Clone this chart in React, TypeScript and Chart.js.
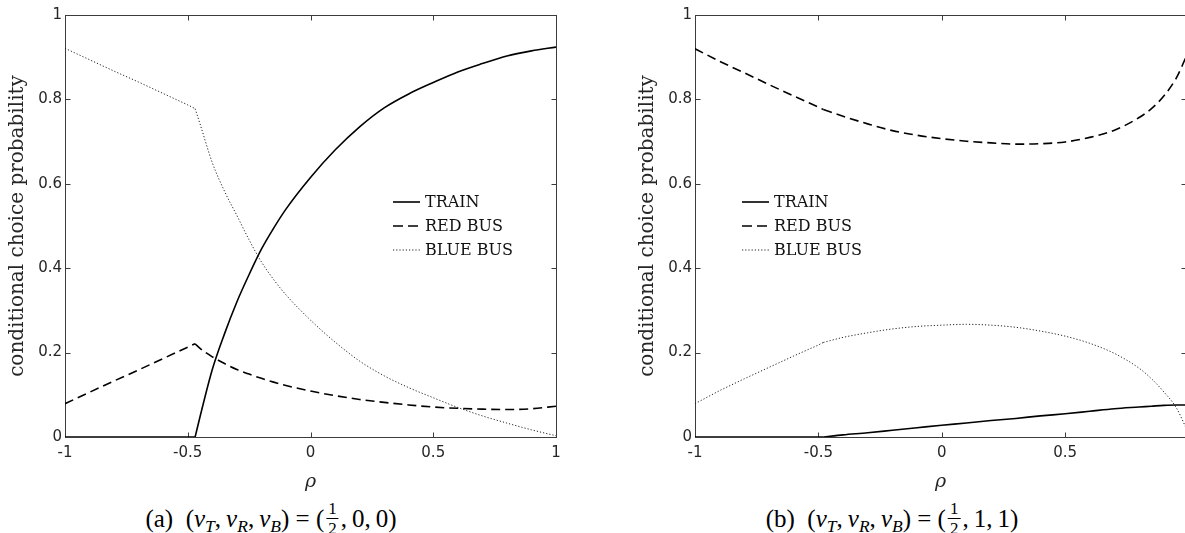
import React, { useEffect, useRef } from "react";
import { Chart, registerables } from "chart.js";
Chart.register(...registerables);

// ---------- data ----------
const rhoA = [-1, -0.9, -0.8, -0.7, -0.6, -0.5, -0.47, -0.45, -0.4, -0.35, -0.3, -0.25, -0.2, -0.15, -0.1, 0, 0.1, 0.2, 0.3, 0.4, 0.5, 0.6, 0.7, 0.8, 0.9, 1];
const trainA = [0, 0, 0, 0, 0, 0, 0, 0.048, 0.16, 0.245, 0.32, 0.385, 0.445, 0.495, 0.54, 0.615, 0.68, 0.735, 0.78, 0.813, 0.84, 0.865, 0.885, 0.903, 0.915, 0.924];
const redBusA = [0.079, 0.106, 0.133, 0.159, 0.186, 0.213, 0.221, 0.21, 0.19, 0.174, 0.16, 0.149, 0.139, 0.13, 0.122, 0.109, 0.098, 0.089, 0.082, 0.076, 0.071, 0.068, 0.066, 0.065, 0.067, 0.073];
const blueBusA = [0.921, 0.894, 0.867, 0.841, 0.814, 0.787, 0.778, 0.742, 0.65, 0.582, 0.525, 0.467, 0.415, 0.373, 0.337, 0.277, 0.225, 0.18, 0.145, 0.117, 0.093, 0.07, 0.05, 0.033, 0.017, 0.003];
const kinkA = -0.47;

const rhoB = [-1, -0.9, -0.8, -0.7, -0.6, -0.5, -0.48, -0.4, -0.3, -0.2, -0.1, 0, 0.1, 0.2, 0.3, 0.4, 0.5, 0.6, 0.7, 0.8, 0.85, 0.9, 0.95, 0.99];
const trainB = [0, 0, 0, 0, 0, 0, 0, 0.005, 0.01, 0.016, 0.022, 0.028, 0.033, 0.039, 0.044, 0.05, 0.055, 0.061, 0.067, 0.071, 0.073, 0.075, 0.076, 0.076];
const redBusB = [0.92, 0.89, 0.863, 0.835, 0.808, 0.782, 0.776, 0.76, 0.742, 0.726, 0.715, 0.707, 0.701, 0.697, 0.694, 0.695, 0.699, 0.71, 0.727, 0.757, 0.778, 0.808, 0.85, 0.9];
const blueBusB = [0.079, 0.11, 0.138, 0.165, 0.192, 0.218, 0.224, 0.236, 0.247, 0.256, 0.262, 0.265, 0.267, 0.265, 0.26, 0.251, 0.239, 0.222, 0.198, 0.163, 0.138, 0.107, 0.07, 0.022];
const kinkB = -0.48;

const seriesNames = ["TRAIN", "RED BUS", "BLUE BUS"];
const xTicksA = [-1, -0.5, 0, 0.5, 1];
const xTicksB = [-1, -0.5, 0, 0.5];
const yTicks = [0, 0.2, 0.4, 0.6, 0.8, 1];
const yTitle = "conditional choice probability";
const xTitle = "ρ";
const captionLabels = ["a", "b"];
const captionVR = ["0", "1"];
const captionVB = ["0", "1"];

// ---------- styles ----------
const AXIS = "#3c3c3c";
const TXT = "#262626";

const framePlugin = {
  id: "frame",
  beforeDatasetsDraw(chart: any) {
    const { ctx, chartArea: a, scales } = chart;
    const x = scales.x;
    const y = scales.y;
    const L = Math.round(a.left) + 0.5;
    const R = Math.round(a.right) + 0.5;
    const T = Math.round(a.top) + 0.5;
    const B = Math.round(a.bottom) + 0.5;
    ctx.save();
    ctx.strokeStyle = AXIS;
    ctx.lineWidth = 1;
    ctx.strokeRect(L, T, R - L, B - T);
    ctx.beginPath();
    x.ticks.forEach((t: any) => {
      const px = Math.round(x.getPixelForValue(t.value)) + 0.5;
      ctx.moveTo(px, B);
      ctx.lineTo(px, B - 5);
      ctx.moveTo(px, T);
      ctx.lineTo(px, T + 5);
    });
    y.ticks.forEach((t: any) => {
      const py = Math.round(y.getPixelForValue(t.value)) + 0.5;
      ctx.moveTo(L, py);
      ctx.lineTo(L + 5, py);
      ctx.moveTo(R, py);
      ctx.lineTo(R - 5, py);
    });
    ctx.stroke();
    ctx.restore();
  },
  afterDraw(chart: any, _args: any, opts: any) {
    const { ctx, chartArea: a } = chart;
    const lx = a.left + opts.legendX;
    const ly = a.top + opts.legendY;
    ctx.save();
    chart.data.datasets.slice(0, 3).forEach((ds: any, i: number) => {
      const yy = ly + i * 24;
      ctx.beginPath();
      ctx.strokeStyle = ds.borderColor;
      ctx.lineWidth = ds.borderWidth;
      ctx.setLineDash(ds.legendDash || ds.borderDash || []);
      ctx.moveTo(lx, yy);
      ctx.lineTo(lx + 27, yy);
      ctx.stroke();
      ctx.setLineDash([]);
      ctx.fillStyle = "#111";
      ctx.font = "16px 'DejaVu Serif'";
      ctx.textBaseline = "alphabetic";
      ctx.textAlign = "left";
      ctx.fillText(ds.label, lx + 32, yy + 5);
    });
    ctx.restore();
  },
};

type PanelProps = {
  left: number;
  width: number;
  rightPad: number;
  rho: number[];
  train: number[];
  red: number[];
  blue: number[];
  kink: number;
  xMax: number;
  xTicks: number[];
  legendX: number;
};

const HEIGHT = 495;

const styles = [
  { borderColor: "#000", borderWidth: 1.6, borderDash: [] as number[] },
  { borderColor: "#000", borderWidth: 1.6, borderDash: [9, 5], legendDash: [10, 5] },
  { borderColor: "#222", borderWidth: 1, borderDash: [1.2, 2] },
];

function Panel(p: PanelProps) {
  const ref = useRef<HTMLCanvasElement>(null);
  useEffect(() => {
    const pts = (arr: number[]) => p.rho.map((r, i) => ({ x: r, y: arr[i] }));
    const after = (arr: number[]) => pts(arr).filter((d) => d.x >= p.kink);
    const before = (arr: number[]) => pts(arr).filter((d) => d.x <= p.kink);
    const series = [p.train, p.red, p.blue];
    const main = series.map((arr, i) => ({
      label: seriesNames[i],
      data: after(arr),
      pointRadius: 0,
      cubicInterpolationMode: "monotone",
      ...styles[i],
    }));
    const pre = series.map((arr, i) => ({
      label: seriesNames[i] + " (ρ ≤ kink)",
      data: before(arr),
      pointRadius: 0,
      tension: 0,
      ...styles[i],
    }));
    const chart = new Chart(ref.current as HTMLCanvasElement, {
      type: "line",
      data: { datasets: [...main, ...pre] as any },
      options: {
        responsive: false,
        animation: false,
        devicePixelRatio: 1,
        layout: { padding: { top: 15, right: p.rightPad, left: 0, bottom: 0 } },
        scales: {
          x: {
            type: "linear",
            min: -1,
            max: p.xMax,
            afterBuildTicks: (s: any) => {
              s.ticks = p.xTicks.map((v) => ({ value: v }));
            },
            afterFit: (s: any) => {
              s.height = HEIGHT - 437;
            },
            grid: { display: false, drawTicks: false },
            border: { display: false },
            ticks: {
              color: TXT,
              padding: 7,
              font: { family: "'DejaVu Sans'", size: 15 },
              callback: (v: any) => String(v),
              maxRotation: 0,
            },
            title: {
              display: true,
              text: xTitle,
              color: TXT,
              font: { family: "'DejaVu Serif'", style: "italic", size: 19 },
              padding: { top: 0, bottom: 2 },
            },
          },
          y: {
            type: "linear",
            min: 0,
            max: 1,
            afterBuildTicks: (s: any) => {
              s.ticks = yTicks.map((v) => ({ value: v }));
            },
            afterFit: (s: any) => {
              s.width = 65;
            },
            grid: { display: false, drawTicks: false },
            border: { display: false },
            ticks: {
              color: TXT,
              padding: 3,
              font: { family: "'DejaVu Sans'", size: 15 },
              callback: (v: any) => String(v),
            },
            title: {
              display: true,
              text: yTitle,
              color: TXT,
              font: { family: "'DejaVu Serif'", size: 20 },
              padding: { top: 6, bottom: 0 },
            },
          },
        },
        plugins: {
          legend: { display: false },
          tooltip: { enabled: false },
          frame: { legendX: p.legendX, legendY: 187 },
        } as any,
      },
      plugins: [framePlugin],
    });
    return () => chart.destroy();
  }, []);
  return (
    <canvas
      ref={ref}
      width={p.width}
      height={HEIGHT}
      style={{ position: "absolute", left: p.left, top: 0, width: p.width, height: HEIGHT }}
    />
  );
}

function Frac() {
  return (
    <span
      style={{
        display: "inline-flex",
        flexDirection: "column",
        alignItems: "center",
        verticalAlign: "13px",
        fontSize: 17,
        lineHeight: "17px",
        margin: "0 2px",
      }}
    >
      <span style={{ borderBottom: "1px solid #000", padding: "0 2px 1px" }}>1</span>
      <span style={{ paddingTop: 1 }}>2</span>
    </span>
  );
}

function Caption({ idx, cx }: { idx: number; cx: number }) {
  const sub = { fontSize: "0.7em", verticalAlign: "-0.28em", fontStyle: "italic" as const };
  return (
    <div
      style={{
        position: "absolute",
        left: cx,
        top: 500,
        transform: "translateX(-50%)",
        whiteSpace: "nowrap",
        fontFamily: "'Liberation Serif'",
        fontSize: 25,
        lineHeight: "30px",
        height: 33,
        color: "#000",
      }}
    >
      ({captionLabels[idx]})&nbsp;&nbsp;(<i>v</i>
      <span style={sub}>T</span>,&thinsp;<i>v</i>
      <span style={sub}>R</span>,&thinsp;<i>v</i>
      <span style={sub}>B</span>) = (<Frac />,&thinsp;{captionVR[idx]},&thinsp;{captionVB[idx]})
    </div>
  );
}

export default function App() {
  return (
    <div
      style={{
        position: "fixed",
        left: 0,
        top: 0,
        width: 1185,
        height: 533,
        overflow: "hidden",
        background: "#fff",
      }}
    >
      <Panel left={0} width={600} rightPad={44} rho={rhoA} train={trainA} red={redBusA} blue={blueBusA} kink={kinkA} xMax={1} xTicks={xTicksA} legendX={328} />
      <Panel left={630} width={560} rightPad={4} rho={rhoB} train={trainB} red={redBusB} blue={blueBusB} kink={kinkB} xMax={0.99} xTicks={xTicksB} legendX={47} />
      <Caption idx={0} cx={271} />
      <Caption idx={1} cx={892} />
    </div>
  );
}
